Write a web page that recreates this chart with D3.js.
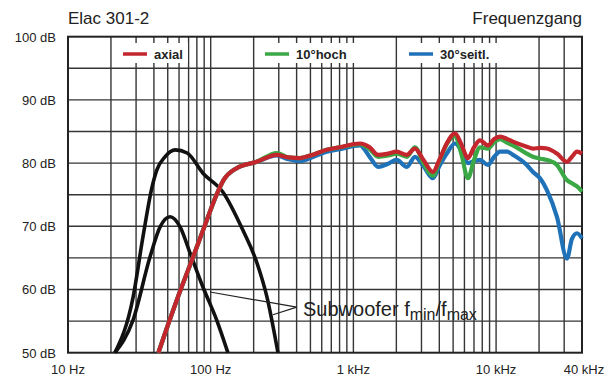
<!DOCTYPE html>
<html>
<head>
<meta charset="utf-8">
<script src="https://cdn.jsdelivr.net/npm/d3@7"></script>
<style>
  body { margin: 0; background: #fff; }
  svg { display: block; font-family: "Liberation Sans", Arial, Helvetica, sans-serif; }
</style>
</head>
<body>
<svg id="chart" width="608" height="378"></svg>
<script>
// frequency response
var freqs = [43, 50, 60, 72, 94, 110, 123, 152, 210, 290, 350, 422, 500, 650, 800, 1110, 1300, 1490, 1750, 2010,
  2370, 2700, 3100, 3610, 4000, 4510, 5150, 5700, 6350, 7000, 7710, 8770, 9700, 10650, 12000, 13130, 16400, 18140,
  20500, 22750, 26700, 31400, 34000, 36900, 40000];
var axial = [50, 54.3, 59.3, 64.0, 71.0, 75.0, 77.3, 79.2, 80.2, 81.3, 80.9, 80.8, 81.2, 82.1, 82.5, 83.1, 82.5, 81.3, 81.5, 81.8,
  81.3, 82.3, 80.5, 78.6, 80.5, 83.1, 84.7, 83.0, 80.8, 82.5, 83.6, 82.8, 83.8, 84.2, 83.8, 83.4, 82.6, 82.3,
  82.4, 82.3, 81.5, 80.2, 81.0, 81.8, 81.5];
var hoch10 = [50, 54.3, 59.3, 64.0, 71.0, 75.0, 77.3, 79.2, 80.2, 81.6, 80.9, 80.8, 81.2, 82.1, 82.5, 83.0, 82.2, 81.0, 81.2, 81.5,
  81.0, 82.5, 80.0, 78.0, 80.3, 83.0, 84.3, 81.5, 77.6, 80.5, 82.5, 82.3, 83.3, 83.8, 83.2, 82.8, 81.5, 81.0,
  80.7, 80.5, 79.7, 77.3, 76.8, 76.3, 75.5];
var seitl30 = [50, 54.3, 59.3, 64.0, 71.0, 75.0, 77.3, 79.2, 80.2, 81.2, 80.6, 80.3, 80.8, 81.8, 82.2, 82.8, 81.0, 79.4, 79.9, 80.5,
  79.4, 81.0, 79.5, 77.6, 79.5, 81.5, 83.1, 82.0, 80.0, 80.3, 80.5, 79.7, 81.0, 81.8, 81.8, 81.3, 79.7, 78.6,
  77.5, 75.7, 71.5, 64.9, 68.0, 68.9, 68.1];

// subwoofer curves
var subMaxFreq = [21.3, 28.6, 33.5, 38.8, 41.9, 47.8, 56.3, 68.4, 88.2, 122, 168, 211, 248, 296];
var subMaxDb   = [50, 58.8, 68.3, 76.2, 78.9, 81.0, 82.1, 81.6, 78.4, 75.4, 69.4, 64.2, 58.8, 50];
var subMinFreq = [21.3, 28.6, 37.5, 44.2, 51.9, 61, 71.6, 88.2, 110, 132];
var subMinDb   = [50, 55.2, 65.1, 69.9, 71.5, 69.9, 65.8, 60.4, 55.2, 50];

var seriesNames = ["axial", "10°hoch", "30°seitl."];
var seriesColors = ["#c4262e", "#3aa844", "#1f72b8"];

var yTicks = [50, 60, 70, 80, 90, 100];
var xTickVals = [10, 100, 1000, 10000, 40000];
var xTickLabels = ["10 Hz", "100 Hz", "1 kHz", "10 kHz", "40 kHz"];

var svg = d3.select("#chart"),
    margin = {top: 36.7, right: 26, bottom: 25.3, left: 68},
    width = +svg.attr("width") - margin.left - margin.right,
    height = +svg.attr("height") - margin.top - margin.bottom;

var x = d3.scaleLog().domain([10, 40000]).range([margin.left, margin.left + width]);
var y = d3.scaleLinear().domain([50, 100]).range([margin.top + height, margin.top]);

var gridColor = "#353535";

// grid
svg.append("g").selectAll("line")
  .data(x.ticks().filter(function(d) { return d > 10 && d < 40000; }))
  .enter().append("line")
    .attr("x1", function(d) { return x(d); })
    .attr("x2", function(d) { return x(d); })
    .attr("y1", y(100)).attr("y2", y(50))
    .attr("stroke", gridColor).attr("stroke-width", 1.4);

svg.append("g").selectAll("line")
  .data(d3.range(55, 100, 5))
  .enter().append("line")
    .attr("x1", x(10)).attr("x2", x(40000))
    .attr("y1", function(d) { return y(d); })
    .attr("y2", function(d) { return y(d); })
    .attr("stroke", gridColor).attr("stroke-width", 1.4);

// legend boxes cover the grid
var legendX = [118, 260, 404], legendW = [70, 100, 101];
svg.append("g").selectAll("rect")
  .data(seriesNames)
  .enter().append("rect")
    .attr("x", function(d, i) { return legendX[i]; })
    .attr("y", 43)
    .attr("width", function(d, i) { return legendW[i]; })
    .attr("height", 20)
    .attr("fill", "#fff");

var leg = svg.append("g").selectAll("g")
  .data(seriesNames)
  .enter().append("g")
    .attr("transform", function(d, i) { return "translate(" + (legendX[i] + 5) + ",54)"; });
leg.append("line")
  .attr("x1", 0).attr("x2", 24).attr("y1", 0).attr("y2", 0)
  .attr("stroke", function(d, i) { return seriesColors[i]; })
  .attr("stroke-width", 3.5);
leg.append("text")
  .attr("x", 31).attr("y", 5)
  .attr("font-size", 13).attr("font-weight", "bold").attr("fill", "#222")
  .text(function(d) { return d; });

// border
svg.append("rect")
  .attr("x", x(10)).attr("y", y(100))
  .attr("width", x(40000) - x(10)).attr("height", y(50) - y(100))
  .attr("fill", "none").attr("stroke", "#222").attr("stroke-width", 2);

// axis labels
svg.append("g").selectAll("text")
  .data(yTicks)
  .enter().append("text")
    .attr("x", 56).attr("y", function(d) { return y(d) + 4.8; })
    .attr("text-anchor", "end").attr("font-size", 13).attr("fill", "#222")
    .text(function(d) { return d + " dB"; });

svg.append("g").selectAll("text")
  .data(xTickVals)
  .enter().append("text")
    .attr("x", function(d, i) { return x(d) + (i == xTickVals.length - 1 ? 2 : 0); })
    .attr("y", 374)
    .attr("text-anchor", "middle").attr("font-size", 13).attr("fill", "#222")
    .text(function(d, i) { return xTickLabels[i]; });

svg.append("text").attr("x", 68).attr("y", 24)
  .attr("font-size", 17).attr("fill", "#222").text("Elac 301-2");
svg.append("text").attr("x", 582).attr("y", 24).attr("text-anchor", "end")
  .attr("font-size", 17).attr("fill", "#222").text("Frequenzgang");

// curves
var line = d3.line()
  .x(function(d) { return x(d[0]); })
  .y(function(d) { return y(d[1]); })
  .curve(d3.curveMonotoneX);

function pairs(fs, vs) { return fs.map(function(f, i) { return [f, vs[i]]; }); }

svg.append("path").datum(pairs(subMinFreq, subMinDb))
  .attr("d", line).attr("fill", "none").attr("stroke", "#111").attr("stroke-width", 3.6);
svg.append("path").datum(pairs(subMaxFreq, subMaxDb))
  .attr("d", line).attr("fill", "none").attr("stroke", "#111").attr("stroke-width", 3.6);

var seriesVals = [axial, hoch10, seitl30];
[2, 1, 0].forEach(function(i) {
  svg.append("path").datum(pairs(freqs, seriesVals[i]))
    .attr("d", line).attr("fill", "none")
    .attr("stroke", seriesColors[i]).attr("stroke-width", 4.2)
    .attr("stroke-linejoin", "round");
});

// annotation
var apex = [401, 57.2];
svg.append("path")
  .attr("d", "M" + x(98.9) + "," + y(59.6) + "L" + x(apex[0]) + "," + y(apex[1]) + "L" + x(273) + "," + y(56))
  .attr("fill", "none").attr("stroke", "#222").attr("stroke-width", 1.2);

var ann = svg.append("text").attr("x", 303).attr("y", 316)
  .attr("font-size", 20).attr("fill", "#222");
ann.append("tspan").text("Subwoofer f");
ann.append("tspan").attr("font-size", 16).attr("dy", 4).text("min");
ann.append("tspan").attr("dy", -4).text("/f");
ann.append("tspan").attr("font-size", 16).attr("dy", 4).text("max");
</script>
</body>
</html>
